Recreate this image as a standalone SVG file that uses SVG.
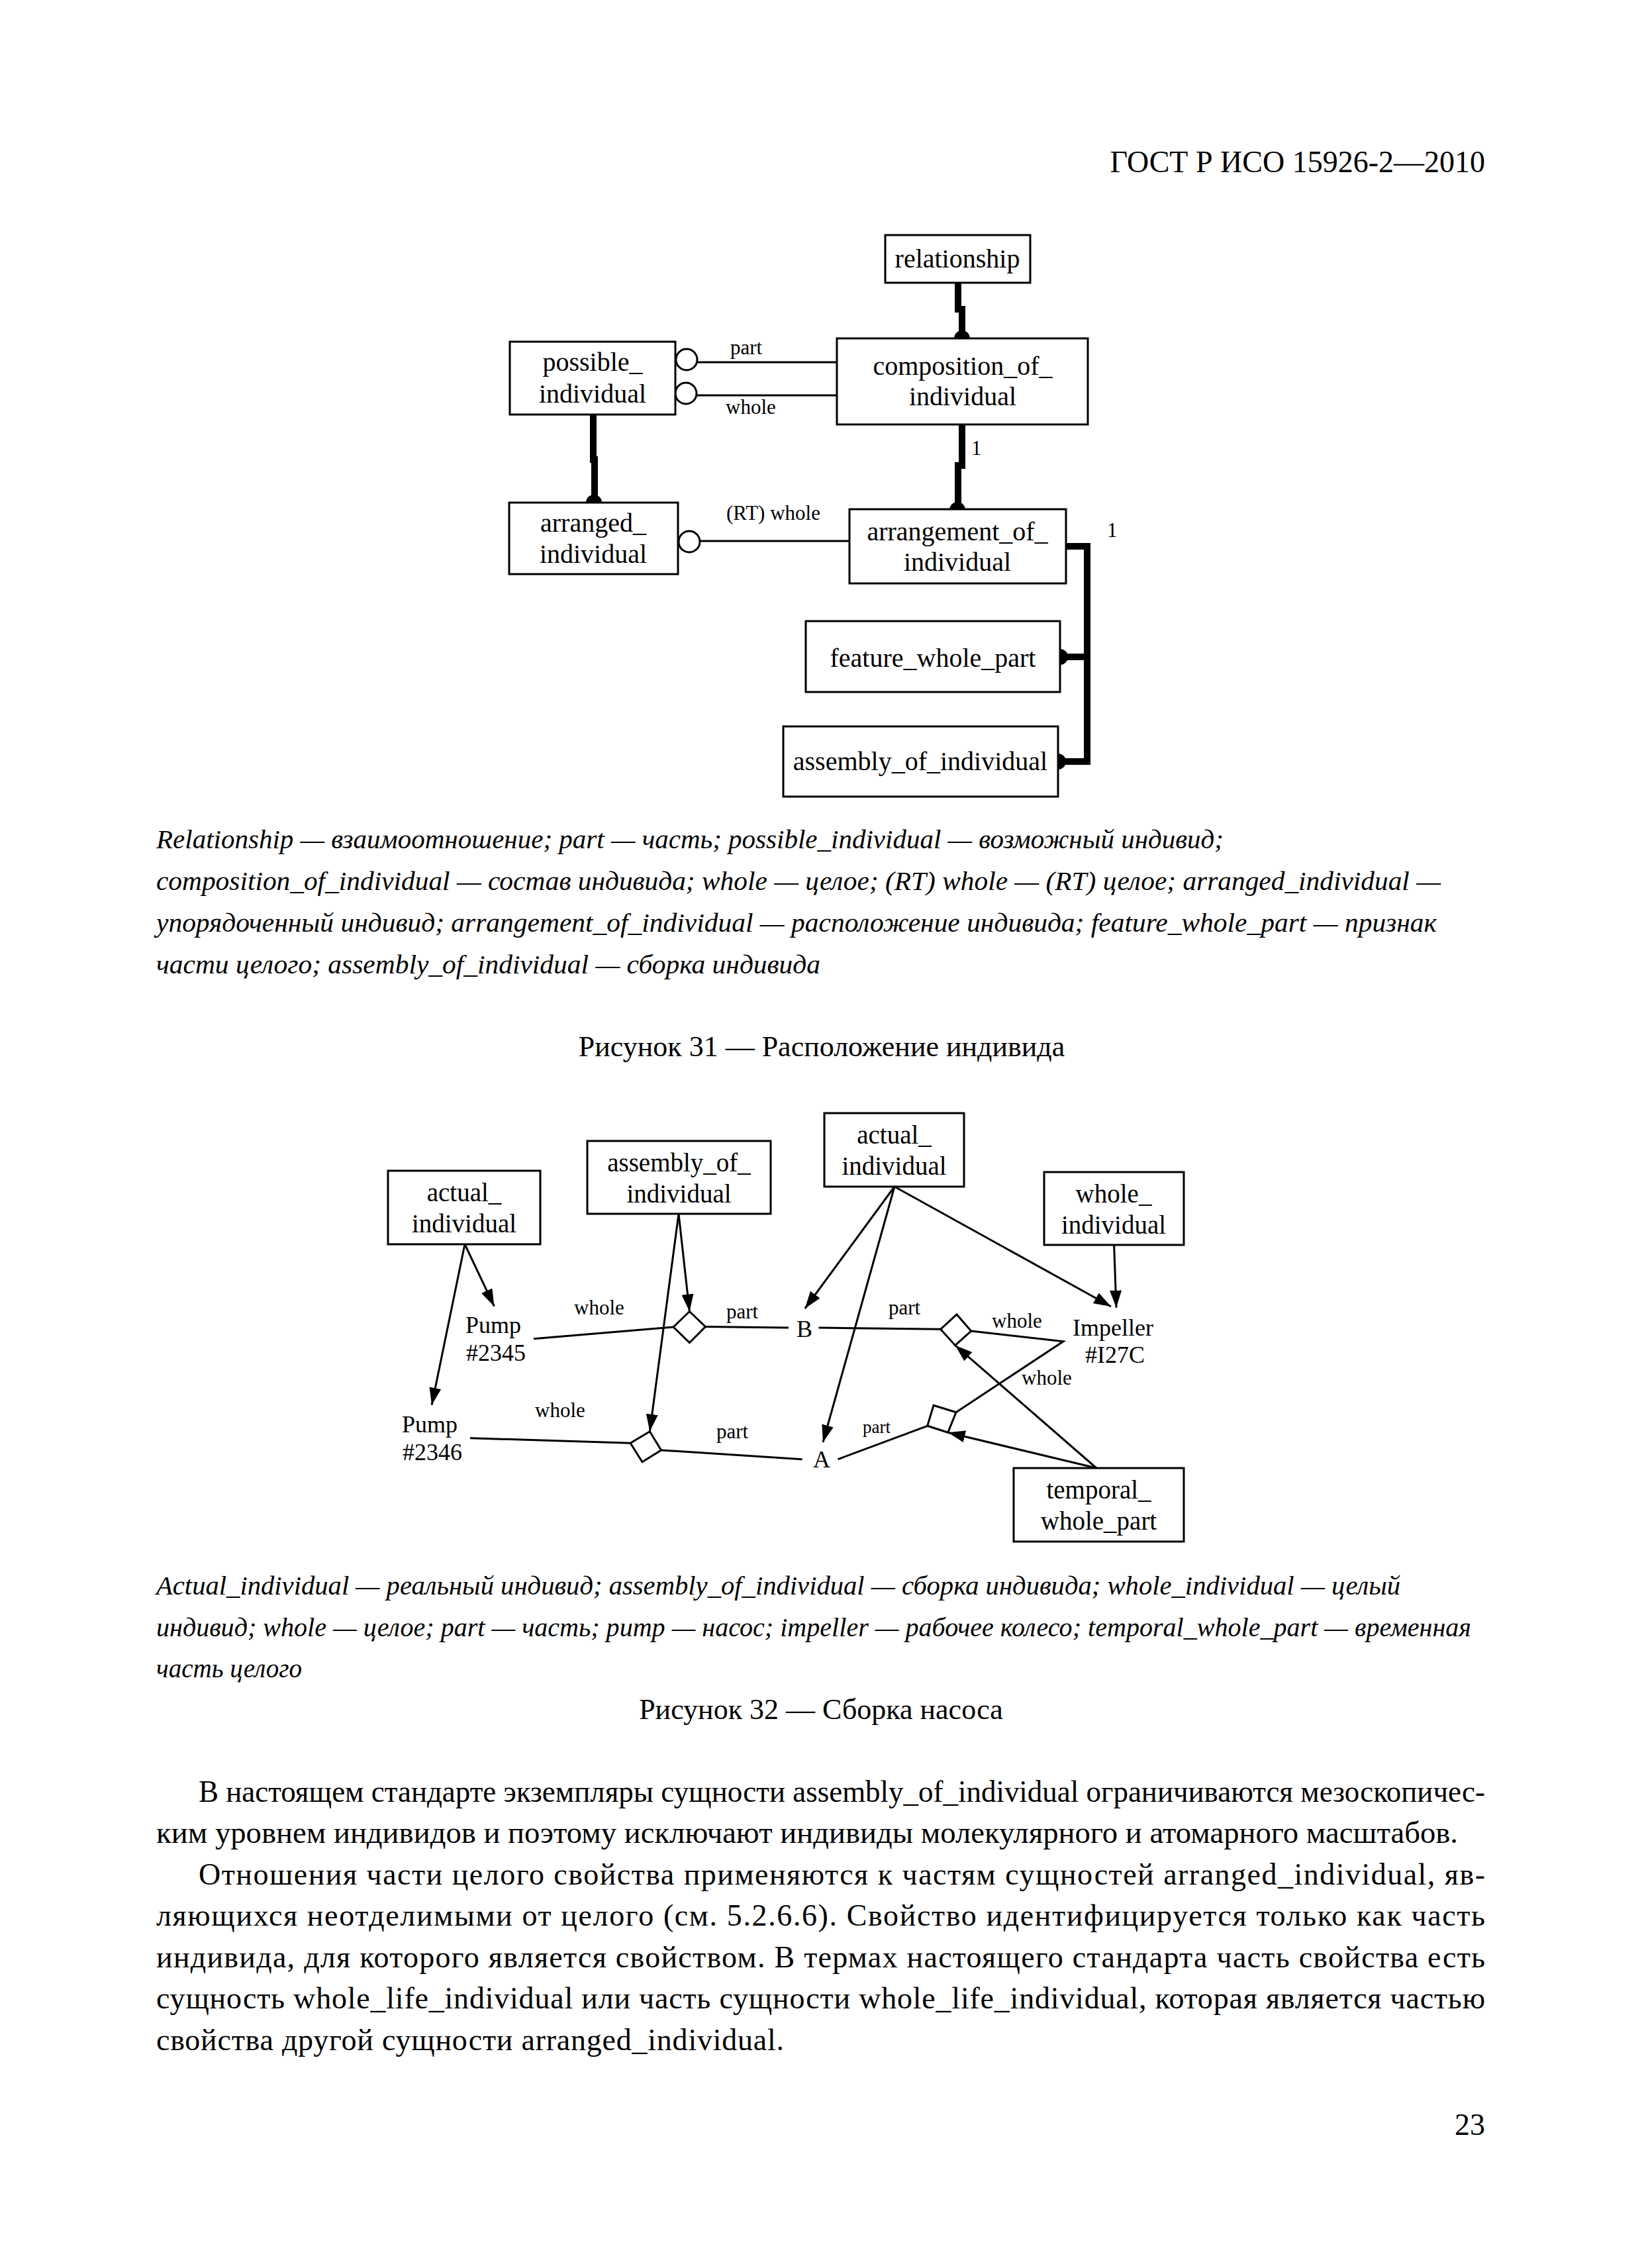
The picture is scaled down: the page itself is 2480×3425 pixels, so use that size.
<svg xmlns="http://www.w3.org/2000/svg" width="2480" height="3425" viewBox="0 0 2480 3425">
<style>
.bg{fill:#fff}
.box{fill:#fff;stroke:#000;stroke-width:3}
.thin{stroke:#000;stroke-width:3;fill:none}
.thick{stroke:#000;stroke-width:10;fill:none}
.dm{fill:#fff;stroke:#000;stroke-width:3}
.dot{fill:#000}
.oc{fill:#fff;stroke:#000;stroke-width:3}
.n40{font-family:"Liberation Serif","DejaVu Serif",serif;font-size:40px;text-anchor:middle;fill:#000}
.n39{font-family:"Liberation Serif","DejaVu Serif",serif;font-size:39px;text-anchor:middle;fill:#000}
.lab{font-family:"Liberation Serif","DejaVu Serif",serif;font-size:31px;fill:#000}
.lab36{font-family:"Liberation Serif","DejaVu Serif",serif;font-size:36px;fill:#000}
.cap{font-family:"Liberation Serif","DejaVu Serif",serif;font-size:41px;font-style:italic;fill:#000}
.body{font-family:"Liberation Serif","DejaVu Serif",serif;font-size:46px;fill:#000}
.ttl{font-family:"Liberation Serif","DejaVu Serif",serif;font-size:44px;text-anchor:middle;fill:#000}
</style>
<defs>
<marker id="arr" markerUnits="userSpaceOnUse" markerWidth="28" markerHeight="20" refX="26" refY="9" orient="auto"><path d="M0,0 L26,9 L0,18 z" fill="#000"/></marker>
</defs>
<rect class="bg" x="0" y="0" width="2480" height="3425"/>

<text class="body" x="2243" y="260" text-anchor="end">ГОСТ Р ИСО 15926-2—2010</text>

<!-- Figure 31 -->
<g id="connectors-fig31">
<path class="thick" d="M1447,428 V467 H1453 V511"/>
<circle class="dot" cx="1453" cy="511" r="12"/>
<path class="thick" d="M1453,641 V703 H1447 V769"/>
<circle class="dot" cx="1446" cy="770" r="12"/>
<path class="thick" d="M896,626 V694 H898 V759"/>
<circle class="dot" cx="897" cy="759" r="12"/>
<path class="thick" d="M1610,825 H1642 V1150 H1598"/>
<path class="thick" d="M1642,992 H1601"/>
<circle class="dot" cx="1601" cy="992" r="12"/>
<circle class="dot" cx="1598" cy="1150" r="12"/>
<line class="thin" x1="1053" y1="547" x2="1264" y2="547"/>
<circle class="oc" cx="1037" cy="543" r="16"/>
<line class="thin" x1="1052" y1="597" x2="1264" y2="597"/>
<circle class="oc" cx="1036" cy="594" r="16"/>
<line class="thin" x1="1057" y1="817" x2="1283" y2="817"/>
<circle class="oc" cx="1041" cy="818" r="16"/>
<text class="lab" x="1103" y="535">part</text>
<text class="lab" x="1096" y="625">whole</text>
<text class="lab" x="1097" y="785">(RT) whole</text>
<text class="lab" x="1467" y="687">1</text>
<text class="lab" x="1672" y="811">1</text>
</g>
<g id="relationship">
<rect class="box" x="1337" y="355" width="219" height="72"/>
<text class="n40" x="1446" y="404">relationship</text>
</g>
<g id="possible_individual">
<rect class="box" x="770" y="516" width="250" height="110"/>
<text class="n40" x="895" y="560">possible_</text>
<text class="n40" x="895" y="608">individual</text>
</g>
<g id="composition_of_individual">
<rect class="box" x="1264" y="511" width="379" height="130"/>
<text class="n40" x="1454" y="566">composition_of_</text>
<text class="n40" x="1454" y="612">individual</text>
</g>
<g id="arranged_individual">
<rect class="box" x="769" y="759" width="255" height="108"/>
<text class="n40" x="896" y="803">arranged_</text>
<text class="n40" x="896" y="850">individual</text>
</g>
<g id="arrangement_of_individual">
<rect class="box" x="1283" y="769" width="327" height="112"/>
<text class="n40" x="1446" y="816">arrangement_of_</text>
<text class="n40" x="1446" y="862">individual</text>
</g>
<g id="feature_whole_part">
<rect class="box" x="1217" y="938" width="384" height="107"/>
<text class="n40" x="1409" y="1007">feature_whole_part</text>
</g>
<g id="assembly_of_individual_31">
<rect class="box" x="1183" y="1097" width="415" height="106"/>
<text class="n40" x="1390" y="1163">assembly_of_individual</text>
</g>

<text class="cap" x="236" y="1281" textLength="1612" lengthAdjust="spacingAndGlyphs">Relationship — взаимоотношение; part — часть; possible_individual — возможный индивид;</text>
<text class="cap" x="236" y="1344" textLength="1940" lengthAdjust="spacingAndGlyphs">composition_of_individual — состав индивида; whole — целое; (RT) whole — (RT) целое; arranged_individual —</text>
<text class="cap" x="236" y="1407" textLength="1934" lengthAdjust="spacingAndGlyphs">упорядоченный индивид; arrangement_of_individual — расположение индивида; feature_whole_part — признак</text>
<text class="cap" x="236" y="1470" textLength="1003" lengthAdjust="spacingAndGlyphs">части целого; assembly_of_individual — сборка индивида</text>
<text class="ttl" x="1241" y="1595">Рисунок 31 — Расположение индивида</text>

<!-- Figure 32 -->
<g id="connectors-fig32">
<line class="thin" x1="806" y1="2021.7" x2="1017" y2="2004"/>
<line class="thin" x1="1065.4" y1="2003.5" x2="1191" y2="2005"/>
<line class="thin" x1="710" y1="2171.7" x2="952.1" y2="2179.3"/>
<line class="thin" x1="998.6" y1="2190" x2="1211.6" y2="2203.7"/>
<line class="thin" x1="1236.5" y1="2005" x2="1420.6" y2="2007.3"/>
<polyline class="thin" points="1466.7,2010 1606,2025.7 1444,2132.7"/>
<line class="thin" x1="1265.5" y1="2203.7" x2="1400.7" y2="2153.3"/>
<line class="thin" x1="702" y1="1879" x2="746.4" y2="1972.7" marker-end="url(#arr)"/>
<line class="thin" x1="702" y1="1879" x2="652.1" y2="2121.7" marker-end="url(#arr)"/>
<line class="thin" x1="1025" y1="1833" x2="1041.4" y2="1980.5" marker-end="url(#arr)"/>
<line class="thin" x1="1025" y1="1833" x2="981.4" y2="2161.7" marker-end="url(#arr)"/>
<line class="thin" x1="1351" y1="1792" x2="1215.8" y2="1976" marker-end="url(#arr)"/>
<line class="thin" x1="1351" y1="1792" x2="1243" y2="2178" marker-end="url(#arr)"/>
<line class="thin" x1="1351" y1="1792" x2="1678" y2="1973" marker-end="url(#arr)"/>
<line class="thin" x1="1682.6" y1="1880" x2="1686" y2="1974.7" marker-end="url(#arr)"/>
<line class="thin" x1="1656" y1="2217" x2="1442.7" y2="2031.7" marker-end="url(#arr)"/>
<line class="thin" x1="1656" y1="2217" x2="1431.7" y2="2163.3" marker-end="url(#arr)"/>
<polygon class="dm" points="1017,2004 1041.4,1980.5 1065.4,2003.5 1041.4,2027.7"/>
<polygon class="dm" points="981.4,2161.7 998.6,2190 970,2207.7 952.1,2179.3"/>
<polygon class="dm" points="1420.6,2007.3 1445,1985 1466.7,2010 1442.7,2031.7"/>
<polygon class="dm" points="1410,2122.3 1444,2132.7 1431.7,2163.3 1400.7,2153.3"/>
<text class="lab" x="867" y="1985">whole</text>
<text class="lab" x="1097" y="1991">part</text>
<text class="lab" x="808" y="2140">whole</text>
<text class="lab" x="1082" y="2172">part</text>
<text class="lab" x="1342" y="1985">part</text>
<text class="lab" x="1498" y="2005">whole</text>
<text class="lab" x="1543" y="2091">whole</text>
<text class="lab" x="1303" y="2164" style="font-size:27px">part</text>
</g>
<g id="pump2345">
<text class="lab36" x="703" y="2013">Pump</text>
<text class="lab36" x="704" y="2055">#2345</text>
</g>
<g id="pump2346">
<text class="lab36" x="607" y="2163">Pump</text>
<text class="lab36" x="608" y="2205">#2346</text>
</g>
<g id="impeller">
<text class="lab36" x="1681" y="2017" text-anchor="middle">Impeller</text>
<text class="lab36" x="1684" y="2058" text-anchor="middle">#I27C</text>
</g>
<g id="B"><text class="lab36" x="1215" y="2019" text-anchor="middle">B</text></g>
<g id="A"><text class="lab36" x="1241" y="2216" text-anchor="middle">A</text></g>
<g id="actual_individual_left">
<rect class="box" x="586" y="1768" width="230" height="111"/>
<text class="n39" x="701" y="1814">actual_</text>
<text class="n39" x="701" y="1861">individual</text>
</g>
<g id="assembly_of_individual_32">
<rect class="box" x="887" y="1723" width="277" height="110"/>
<text class="n39" x="1025.5" y="1769">assembly_of_</text>
<text class="n39" x="1025.5" y="1816">individual</text>
</g>
<g id="actual_individual_mid">
<rect class="box" x="1245" y="1681" width="211" height="111"/>
<text class="n39" x="1350.5" y="1727">actual_</text>
<text class="n39" x="1350.5" y="1774">individual</text>
</g>
<g id="whole_individual">
<rect class="box" x="1577" y="1770" width="211" height="110"/>
<text class="n39" x="1682" y="1816">whole_</text>
<text class="n39" x="1682" y="1863">individual</text>
</g>
<g id="temporal_whole_part">
<rect class="box" x="1531" y="2217" width="257" height="111"/>
<text class="n39" x="1659.5" y="2263">temporal_</text>
<text class="n39" x="1659.5" y="2310">whole_part</text>
</g>

<text class="cap" x="236" y="2408" textLength="1879" lengthAdjust="spacingAndGlyphs">Actual_individual — реальный индивид; assembly_of_individual — сборка индивида; whole_individual — целый</text>
<text class="cap" x="236" y="2471" textLength="1986" lengthAdjust="spacingAndGlyphs">индивид; whole — целое; part — часть; pump — насос; impeller — рабочее колесо; temporal_whole_part — временная</text>
<text class="cap" x="236" y="2533" textLength="220" lengthAdjust="spacingAndGlyphs">часть целого</text>
<text class="ttl" x="1240" y="2596">Рисунок 32 — Сборка насоса</text>

<text class="body" x="300" y="2721" textLength="1943" lengthAdjust="spacingAndGlyphs">В настоящем стандарте экземпляры сущности assembly_of_individual ограничиваются мезоскопичес-</text>
<text class="body" x="236" y="2783" textLength="1966" lengthAdjust="spacingAndGlyphs">ким уровнем индивидов и поэтому исключают индивиды молекулярного и атомарного масштабов.</text>
<text class="body" x="300" y="2846" textLength="1943">Отношения части целого свойства применяются к частям сущностей arranged_individual, яв-</text>
<text class="body" x="236" y="2908" textLength="2007">ляющихся неотделимыми от целого (см. 5.2.6.6). Свойство идентифицируется только как часть</text>
<text class="body" x="236" y="2971" textLength="2007">индивида, для которого является свойством. В термах настоящего стандарта часть свойства есть</text>
<text class="body" x="236" y="3033" textLength="2007">сущность whole_life_individual или часть сущности whole_life_individual, которая является частью</text>
<text class="body" x="236" y="3096" textLength="948">свойства другой сущности arranged_individual.</text>

<text class="body" x="2243" y="3224" text-anchor="end">23</text>
</svg>
